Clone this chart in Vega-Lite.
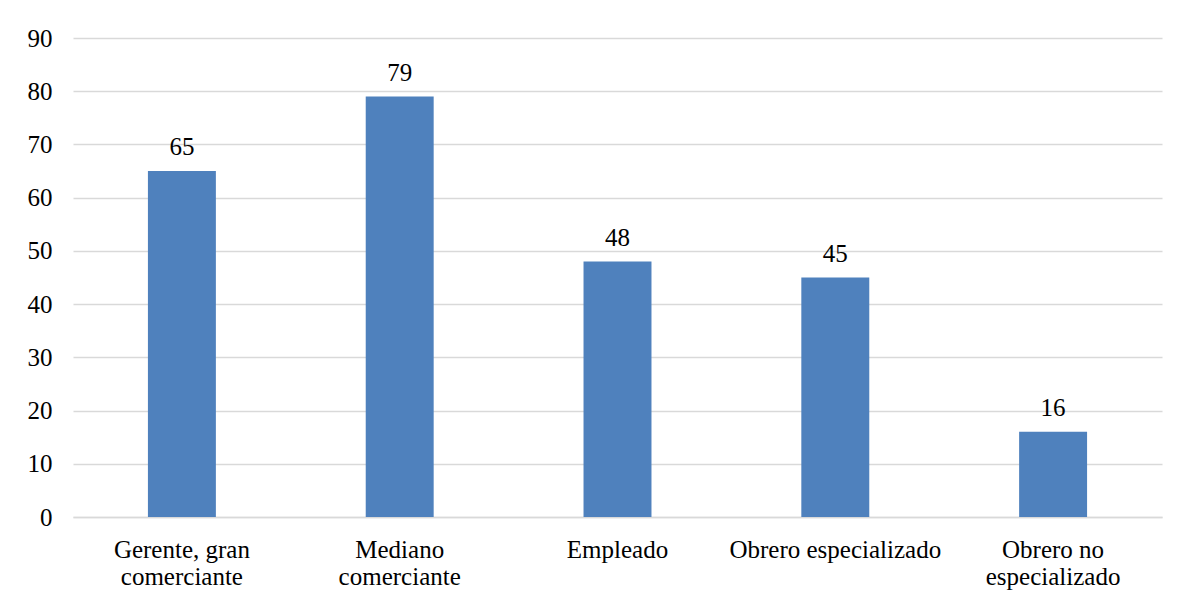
{
  "$schema": "https://vega.github.io/schema/vega-lite/v6.json",
  "width": 1089,
  "height": 479,
  "autosize": {"type": "none"},
  "padding": {"left": 73, "top": 38, "right": 21, "bottom": 82},
  "background": "white",
  "config": {
    "view": {"stroke": null},
    "font": "Liberation Serif"
  },
  "data": {
    "values": [
      {"ocupacion": "Gerente, gran comerciante", "valor": 65},
      {"ocupacion": "Mediano comerciante", "valor": 79},
      {"ocupacion": "Empleado", "valor": 48},
      {"ocupacion": "Obrero especializado", "valor": 45},
      {"ocupacion": "Obrero no especializado", "valor": 16}
    ]
  },
  "encoding": {
    "x": {
      "field": "ocupacion",
      "type": "nominal",
      "sort": null,
      "scale": {"paddingInner": 0.688, "paddingOuter": 0.344},
      "axis": {
        "title": null,
        "labelAngle": 0,
        "labelFont": "Liberation Serif",
        "labelFontSize": 25,
        "labelColor": "#000000",
        "labelPadding": 40,
        "labelLineHeight": 27,
        "labelBaseline": "alphabetic",
        "labelLimit": 0,
        "ticks": false,
        "domain": true,
        "domainColor": "#d9d9d9",
        "domainWidth": 1.5,
        "labelExpr": "datum.label == 'Gerente, gran comerciante' ? ['Gerente, gran', 'comerciante'] : datum.label == 'Mediano comerciante' ? ['Mediano', 'comerciante'] : datum.label == 'Obrero no especializado' ? ['Obrero no', 'especializado'] : datum.label"
      }
    },
    "y": {
      "field": "valor",
      "type": "quantitative",
      "scale": {"domain": [0, 90], "nice": false},
      "axis": {
        "title": null,
        "values": [0, 10, 20, 30, 40, 50, 60, 70, 80, 90],
        "labelFont": "Liberation Serif",
        "labelFontSize": 25,
        "labelColor": "#000000",
        "labelPadding": 21,
        "ticks": false,
        "domain": false,
        "grid": true,
        "gridColor": "#d9d9d9",
        "gridWidth": 1.5
      }
    }
  },
  "layer": [
    {
      "mark": {"type": "bar", "color": "#4f81bd"}
    },
    {
      "mark": {
        "type": "text",
        "baseline": "alphabetic",
        "dy": -16,
        "fontSize": 25,
        "font": "Liberation Serif",
        "color": "#000000"
      },
      "encoding": {"text": {"field": "valor", "type": "quantitative"}}
    }
  ]
}
